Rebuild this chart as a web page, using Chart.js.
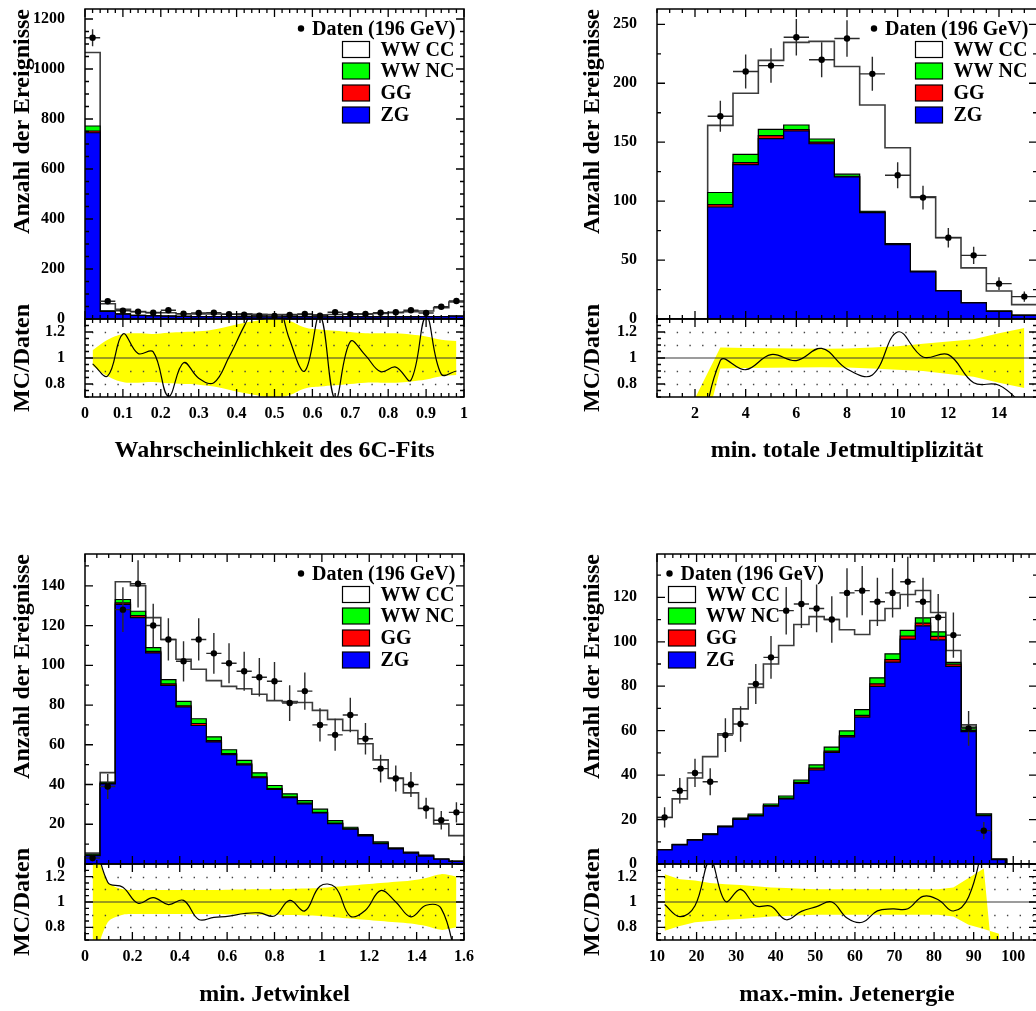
<!DOCTYPE html>
<html>
<head>
<meta charset="utf-8">
<title>Kontrollverteilungen 196 GeV</title>
<script src="https://cdn.jsdelivr.net/npm/chart.js@4.4.1/dist/chart.umd.min.js"></script>
<style>
  html, body { margin: 0; padding: 0; background: #fff; }
  #fig { position: relative; width: 1036px; height: 1011px; overflow: hidden; background: #fff; }
  #fig canvas { position: absolute; }
</style>
</head>
<body>
<div id="fig"></div>
<script>
// ---------------------------------------------------------------------------
// Wahrscheinlichkeit des 6C-Fits: 25 bins on [0, 1]
const fitZG    = [745, 30, 19, 14, 12, 11, 10, 9, 9, 8, 8, 8, 8, 8, 8, 8, 8, 8, 8, 8, 8, 8, 9, 9, 11];
const fitGG    = [7, 1, 1, 0.5, 0.5, 0.5, 0.5, 0.5, 0.5, 0.5, 0.5, 0.5, 0.5, 0.5, 0.5, 0.5, 0.5, 0.5, 0.5, 0.5, 0.5, 0.5, 0.5, 0.5, 0.5];
const fitNC    = [20, 2, 1, 0.5, 0.5, 0.5, 0.5, 0.5, 0.5, 0.5, 0.5, 0.5, 0.5, 0.5, 0.5, 0.5, 0.5, 0.5, 0.5, 0.5, 0.5, 0.5, 0.5, 0.5, 0.5];
const fitCC    = [294, 28, 18, 15, 13, 13, 10, 10, 10, 10, 12, 10, 9, 9, 9, 8, 9, 12, 11, 13, 16, 20, 22, 35, 56];
const fitData  = [1125, 71, 33, 29, 25, 35, 21, 24, 25, 19, 17, 13, 12, 16, 20, 13, 27, 19, 20, 25, 27, 35, 24, 49, 72];
const fitRatio = [0.955, 0.863, 1.184, 1.034, 1.047, 0.705, 0.963, 0.845, 0.81, 1.008, 1.245, 1.45, 1.5, 1.14, 0.9, 1.33, 0.68, 1.126, 1.02, 0.895, 0.93, 0.83, 1.32, 0.876, 0.9];
const fitBandHi = [1.06, 1.14, 1.185, 1.19, 1.185, 1.195, 1.2, 1.205, 1.22, 1.245, 1.27, 1.29, 1.305, 1.285, 1.235, 1.22, 1.21, 1.2, 1.19, 1.19, 1.19, 1.18, 1.165, 1.14, 1.13];
const fitBandLo = [0.94, 0.86, 0.815, 0.81, 0.815, 0.805, 0.8, 0.795, 0.78, 0.755, 0.73, 0.71, 0.695, 0.715, 0.765, 0.78, 0.79, 0.8, 0.81, 0.81, 0.81, 0.82, 0.835, 0.86, 0.87];
const fitXTicks = [0, 0.1, 0.2, 0.3, 0.4, 0.5, 0.6, 0.7, 0.8, 0.9, 1];
const fitYTicks = [0, 200, 400, 600, 800, 1000, 1200];

// min. totale Jetmultiplizitaet: 15 bins on [0.5, 15.5]
const jmZG    = [0, 0, 95, 131, 153, 159.5, 148.7, 120.6, 90.2, 63, 40, 23.8, 13.6, 6.5, 3.1];
const jmGG    = [0, 0, 2, 1.7, 2.5, 1.1, 1.4, 0.5, 0.4, 0.3, 0.2, 0.1, 0.1, 0.1, 0.05];
const jmNC    = [0, 0, 10.3, 6.9, 5.4, 4, 2.6, 1.8, 0.8, 0.7, 0.4, 0.1, 0.3, 0.2, 0.25];
const jmCC    = [0, 0, 57, 51.9, 58.5, 70.1, 82.8, 91.3, 90.2, 81.3, 63, 45, 29.4, 17, 8.8];
const jmData  = [null, null, 172, 210, 215, 239, 220, 238, 208, 122, 103, 69, 54, 30, 19];
const jmRatio = [null, 0, 0.98, 0.91, 1.026, 0.98, 1.074, 0.916, 0.87, 1.2, 1.008, 1.026, 0.81, 0.79, 0.63];
const jmBandHi = [null, 0.69, 1.08, 1.077, 1.075, 1.073, 1.072, 1.074, 1.08, 1.09, 1.11, 1.126, 1.145, 1.19, 1.23];
const jmBandLo = [null, 0.16, 0.92, 0.924, 0.925, 0.927, 0.928, 0.926, 0.92, 0.91, 0.9, 0.876, 0.855, 0.81, 0.77];
const jmXTicks = [2, 4, 6, 8, 10, 12, 14];
const jmYTicks = [0, 50, 100, 150, 200, 250];

// min. Jetwinkel: 25 bins on [0, 1.6]
const angZG    = [4.2, 40.3, 130.6, 124, 106.2, 89.9, 79, 69.7, 61.5, 55, 49.9, 43.4, 37.6, 33.4, 30.3, 25.7, 20.3, 17.5, 14.1, 10.3, 7.6, 5.5, 4, 2.4, 1.3];
const angGG    = [0.1, 0.3, 0.8, 1, 0.8, 0.7, 0.6, 1, 0.6, 0.5, 0.5, 0.5, 0.4, 0.4, 0.3, 0.3, 0.3, 0.2, 0.2, 0.2, 0.1, 0.1, 0.1, 0.05, 0.05];
const angNC    = [0.7, 0.6, 1.7, 2.2, 1.9, 2.2, 2.2, 2.4, 1.9, 2, 1.7, 2, 1.5, 1.5, 1.3, 1.6, 1.2, 0.8, 0.5, 0.6, 0.4, 0.4, 0.4, 0.05, 0.15];
const angCC    = [0.5, 4.8, 8.9, 12.8, 15.1, 20.2, 21.2, 24.9, 28.3, 31.9, 36.1, 39.5, 42.7, 46.4, 49.4, 49.7, 51, 48.7, 45.7, 41.3, 35.1, 29.8, 23.4, 17.7, 12.8];
const angData  = [3, 39, 128, 141, 120, 113, 102, 113, 106, 101, 97, 94, 92, 81, 87, 70, 65, 75, 63, 48, 43, 40, 28, 22, 26];
const angRatio = [1.6, 1.156, 1.117, 0.99, 1.034, 0.98, 1.013, 0.862, 0.878, 0.888, 0.909, 0.914, 0.89, 1.013, 0.93, 1.125, 1.117, 0.888, 0.935, 1.09, 1.0, 0.883, 0.974, 0.948, 0.55];
const angBandHi = [1.5, 1.16, 1.1, 1.095, 1.095, 1.095, 1.095, 1.095, 1.095, 1.097, 1.098, 1.1, 1.1, 1.103, 1.106, 1.11, 1.12, 1.13, 1.14, 1.15, 1.16, 1.17, 1.19, 1.22, 1.2];
const angBandLo = [0.5, 0.84, 0.9, 0.905, 0.905, 0.905, 0.905, 0.905, 0.905, 0.903, 0.902, 0.9, 0.9, 0.897, 0.894, 0.89, 0.88, 0.87, 0.86, 0.85, 0.84, 0.83, 0.81, 0.78, 0.8];
const angXTicks = [0, 0.2, 0.4, 0.6, 0.8, 1, 1.2, 1.4, 1.6];
const angYTicks = [0, 20, 40, 60, 80, 100, 120, 140];

// max.-min. Jetenergie: 25 bins on [10, 106]
const enZG    = [6.3, 8.6, 10.7, 13.2, 16.7, 20.1, 21.6, 26, 29.3, 36.3, 42.3, 50.2, 57.2, 66.1, 79.9, 90.8, 101.2, 107.2, 100.9, 88.9, 59.6, 21.8, 2, 0, 0];
const enGG    = [0.1, 0.1, 0.1, 0.2, 0.2, 0.2, 0.3, 0.3, 0.3, 0.4, 0.8, 0.6, 0.6, 0.8, 1.2, 1.2, 1.4, 1.2, 1.5, 1.0, 0.5, 0.2, 0, 0, 0];
const enNC    = [0.1, 0.1, 0.2, 0.2, 0.2, 0.4, 0.6, 0.7, 1.0, 1.1, 1.5, 1.8, 2.1, 2.6, 2.7, 2.6, 2.5, 2.4, 2.1, 0.8, 1.5, 0.5, 0.1, 0, 0];
const enCC    = [14.4, 20.5, 27.7, 34.7, 41.5, 49.1, 56.9, 63, 67.7, 70, 66.7, 57.4, 45.5, 33.8, 25.8, 20.4, 16.2, 12.3, 8.7, 5.4, 1.0, 0, 0.2, 0, 0];
const enData  = [21, 33, 41, 37, 58, 63, 81, 93, 114, 117, 115, 110, 122, 123, 118, 122, 127, 118, 111, 103, 61, 15, null, null, null];
const enRatio = [0.98, 0.884, 0.97, 1.33, 1.005, 1.1, 0.97, 0.966, 0.86, 0.926, 0.963, 1.0, 0.874, 0.84, 0.93, 0.945, 0.947, 1.045, 1.018, 0.929, 1.04, 1.47, null, null, null];
const enBandHi = [1.22, 1.18, 1.17, 1.15, 1.14, 1.134, 1.125, 1.115, 1.11, 1.105, 1.1, 1.1, 1.1, 1.1, 1.1, 1.1, 1.1, 1.1, 1.1, 1.115, 1.19, 1.265, 0, null, null];
const enBandLo = [0.774, 0.81, 0.84, 0.85, 0.86, 0.866, 0.875, 0.885, 0.89, 0.895, 0.9, 0.9, 0.9, 0.9, 0.9, 0.9, 0.9, 0.9, 0.9, 0.885, 0.82, 0.787, 0.75, null, null];
const enXTicks = [10, 20, 30, 40, 50, 60, 70, 80, 90, 100];
const enYTicks = [0, 20, 40, 60, 80, 100, 120];

// Ratio pads share one vertical axis
const ratioYTicks = [0.8, 1, 1.2];
const ratioGridRows = [0.8, 0.9, 1.1, 1.2];

const LABEL_DATA = 'Daten (196 GeV)';
// ---------------------------------------------------------------------------

const FONT = "'Liberation Serif', 'Times New Roman', Times, serif";
const COL = { zg: '#0000ff', gg: '#ff0000', nc: '#00ff00', cc: '#ffffff', band: '#ffff00' };
const tickFont = { family: FONT, size: 16, weight: 'bold' };
const titleFont = { family: FONT, size: 24, weight: 'bold' };
const fmt = v => String(Math.round(v * 1000) / 1000);

function edgesOf(min, width, n) { const e = []; for (let i = 0; i <= n; i++) e.push(+(min + width * i).toFixed(6)); return e; }
function centersOf(min, width, n) { const c = []; for (let i = 0; i < n; i++) c.push(+(min + width * (i + 0.5)).toFixed(6)); return c; }
// histogram outline: one point per left bin edge, closing point on the last edge
function stepPoints(edges, vals) { return edges.map((x, i) => ({ x, y: vals[Math.min(i, vals.length - 1)] })); }
function centerPoints(centers, vals) { return centers.map((x, i) => ({ x, y: vals[i] })); }

// Frame with inward major/minor ticks on all four sides
const rootFrame = {
  id: 'rootFrame',
  afterDatasetsDraw(chart, args, o) {
    const { ctx, chartArea: a, scales: { x, y } } = chart;
    ctx.save();
    ctx.strokeStyle = '#000';
    ctx.lineWidth = 1.3;
    const isMajor = (arr, v, step) => arr.some(m => Math.abs(m - v) < step * 1e-3);
    ctx.beginPath();
    const xs = Math.ceil(x.min / o.xMinor - 1e-6);
    for (let k = xs; ; k++) {
      const v = +(k * o.xMinor).toFixed(6);
      if (v > x.max + 1e-9) break;
      const px = x.getPixelForValue(v);
      const len = isMajor(o.xMajor, v, o.xMinor) ? 8 : 4;
      ctx.moveTo(px, a.bottom); ctx.lineTo(px, a.bottom - len);
      ctx.moveTo(px, a.top); ctx.lineTo(px, a.top + len);
    }
    const ys = Math.ceil(y.min / o.yMinor - 1e-6);
    for (let k = ys; ; k++) {
      const v = +(k * o.yMinor).toFixed(6);
      if (v > y.max + 1e-9) break;
      const py = y.getPixelForValue(v);
      const len = isMajor(o.yMajor, v, o.yMinor) ? 8 : 4;
      ctx.moveTo(a.left, py); ctx.lineTo(a.left + len, py);
      ctx.moveTo(a.right, py); ctx.lineTo(a.right - len, py);
    }
    ctx.stroke();
    ctx.lineWidth = 1.5;
    ctx.strokeRect(a.left, a.top, a.right - a.left, a.bottom - a.top);
    ctx.restore();
  }
};

// Poisson error bars on the data points, horizontal bar spans the bin
const errBars = {
  id: 'errBars',
  beforeDatasetDraw(chart, args, o) {
    if (args.index !== 0 || !o.centers) return;
    const { ctx, chartArea: a, scales: { x, y } } = chart;
    ctx.save();
    ctx.beginPath(); ctx.rect(a.left, a.top, a.right - a.left, a.bottom - a.top); ctx.clip();
    ctx.strokeStyle = '#2a2a2a';
    ctx.lineWidth = 1.4;
    ctx.beginPath();
    o.centers.forEach((c, i) => {
      const v = o.values[i];
      if (v == null) return;
      const e = Math.sqrt(v);
      const px = x.getPixelForValue(c), py = y.getPixelForValue(v);
      ctx.moveTo(px, y.getPixelForValue(v - e)); ctx.lineTo(px, y.getPixelForValue(v + e));
      ctx.moveTo(x.getPixelForValue(c - o.half), py); ctx.lineTo(x.getPixelForValue(c + o.half), py);
    });
    ctx.stroke();
    ctx.restore();
  }
};

// Legend box: data marker plus the four MC components
const histLegend = {
  id: 'histLegend',
  afterDatasetsDraw(chart, args, o) {
    if (!o.side) return;
    const { ctx, chartArea: a } = chart;
    const ds = chart.data.datasets;
    const rows = [19.5, 40.5, 62, 84, 106];
    let bulletX, textX, boxX, boxTextX;
    if (o.side === 'right') {
      bulletX = a.right - 163; textX = a.right - 152; boxX = a.right - 121.5; boxTextX = a.right - 83.5;
    } else {
      bulletX = a.left + 12.5; textX = a.left + 23.5; boxX = a.left + 11.5; boxTextX = a.left + 49;
    }
    ctx.save();
    ctx.font = `bold 20px ${FONT}`;
    ctx.textBaseline = 'middle';
    ctx.textAlign = 'left';
    ctx.fillStyle = '#000';
    ctx.beginPath(); ctx.arc(bulletX, a.top + rows[0], 3.2, 0, Math.PI * 2); ctx.fill();
    ctx.fillText(ds[0].label, textX, a.top + rows[0] + 1);
    [4, 3, 2, 1].forEach((di, k) => {
      const cy = a.top + rows[k + 1];
      ctx.fillStyle = ds[di].backgroundColor;
      ctx.fillRect(boxX, cy - 8, 27, 16);
      ctx.strokeStyle = '#000'; ctx.lineWidth = 1.2;
      ctx.strokeRect(boxX, cy - 8, 27, 16);
      ctx.fillStyle = '#000';
      ctx.fillText(ds[di].label, boxTextX, cy + 1);
    });
    ctx.restore();
  }
};

// Dotted guide rows and the unity line, drawn over the band and under the ratio curve
const ratioGuides = {
  id: 'ratioGuides',
  afterDatasetDraw(chart, args, o) {
    if (!o.rows || args.index !== 2) return;
    const { ctx, chartArea: a, scales: { y } } = chart;
    ctx.save();
    ctx.beginPath(); ctx.rect(a.left, a.top, a.right - a.left, a.bottom - a.top); ctx.clip();
    ctx.strokeStyle = '#444';
    ctx.lineWidth = 1.4;
    ctx.setLineDash([1.4, 11.3]);
    ctx.lineDashOffset = -7;
    o.rows.forEach(v => {
      const py = Math.round(y.getPixelForValue(v)) + 0.5;
      ctx.beginPath(); ctx.moveTo(a.left, py); ctx.lineTo(a.right, py); ctx.stroke();
    });
    ctx.setLineDash([]);
    ctx.strokeStyle = '#3a3a3a';
    ctx.lineWidth = 1.2;
    const pu = y.getPixelForValue(o.unity);
    ctx.beginPath(); ctx.moveTo(a.left, pu); ctx.lineTo(a.right, pu); ctx.stroke();
    ctx.restore();
  }
};

const fig = document.getElementById('fig');
function makeCanvas(left, top, w, h) {
  const c = document.createElement('canvas');
  c.width = w; c.height = h;
  c.style.left = left + 'px'; c.style.top = top + 'px';
  c.style.width = w + 'px'; c.style.height = h + 'px';
  fig.appendChild(c);
  return c.getContext('2d');
}

function mcSet(label, edges, vals, color, order) {
  const isCC = order === 4;
  return {
    label, data: stepPoints(edges, vals), stepped: true, fill: 'origin',
    backgroundColor: color, borderColor: isCC ? '#3c3c3c' : '#000', borderWidth: isCC ? 1.6 : 1.2,
    pointRadius: 0, stack: 'mc', order
  };
}

const RATIO_TOP_PAD = 24;

function drawPanel(g, p) {
  const n = p.zg.length;
  const edges = edgesOf(p.xMin, p.binWidth, n);
  const centers = centersOf(p.xMin, p.binWidth, n);
  const W = g.R - g.x0 + 12;

  // upper pad: stacked MC histograms and data
  const mainH = g.B1 - g.T + 19;
  new Chart(makeCanvas(g.x0, g.T - 9, W, mainH), {
    type: 'line',
    data: {
      datasets: [
        { label: LABEL_DATA, data: centerPoints(centers, p.data), showLine: false, pointRadius: 3.2,
          pointBackgroundColor: '#000', pointBorderWidth: 0, stack: 'data', order: 0 },
        mcSet('ZG', edges, p.zg, COL.zg, 1),
        mcSet('GG', edges, p.gg, COL.gg, 2),
        mcSet('WW NC', edges, p.nc, COL.nc, 3),
        mcSet('WW CC', edges, p.cc, COL.cc, 4)
      ]
    },
    options: {
      responsive: false, animation: false, events: [],
      layout: { padding: { left: 0, top: 9, right: 12, bottom: 10 } },
      plugins: {
        legend: { display: false }, tooltip: { enabled: false },
        rootFrame: { xMajor: p.xTicks, xMinor: p.xMinor, yMajor: p.yTicks, yMinor: p.yMinor },
        errBars: { centers, values: p.data, half: p.binWidth / 2 },
        histLegend: { side: p.legendSide }
      },
      scales: {
        x: { type: 'linear', display: false, min: p.xMin, max: p.xMax },
        y: {
          type: 'linear', stacked: true, min: 0, max: p.yMax,
          afterBuildTicks: s => { s.ticks = p.yTicks.map(v => ({ value: v })); },
          afterFit: s => { s.width = 85; s.paddingTop = 0; s.paddingBottom = 0; },
          grid: { display: false, drawTicks: false }, border: { display: false },
          ticks: { font: tickFont, color: '#000', padding: 20, callback: fmt },
          title: { display: true, text: 'Anzahl der Ereignisse', align: 'end', color: '#000',
                   font: titleFont, padding: { top: p.yTitlePad, bottom: 0 } }
        }
      }
    },
    plugins: [rootFrame, errBars, histLegend]
  });

  // lower pad: MC/Daten with uncertainty band
  const ratioH = RATIO_TOP_PAD + (g.B2 - g.B1) + 75;
  new Chart(makeCanvas(g.x0, g.B1 - RATIO_TOP_PAD, W, ratioH), {
    type: 'line',
    data: {
      datasets: [
        { label: 'MC/Daten', data: centerPoints(centers, p.ratio), borderColor: '#000', borderWidth: 1.2,
          pointRadius: 0, tension: 0.4, fill: false, order: 0 },
        { label: 'band low', data: centerPoints(centers, p.bandLo), borderWidth: 0, borderColor: 'rgba(0,0,0,0)',
          pointRadius: 0, tension: p.bandTension, fill: false, order: 2 },
        { label: 'band high', data: centerPoints(centers, p.bandHi), borderWidth: 0, borderColor: 'rgba(0,0,0,0)',
          pointRadius: 0, tension: p.bandTension, fill: 1, backgroundColor: COL.band, order: 1 }
      ]
    },
    options: {
      responsive: false, animation: false, events: [],
      elements: { line: { capBezierPoints: false } },
      layout: { padding: { left: 0, top: RATIO_TOP_PAD, right: 12, bottom: 0 } },
      plugins: {
        legend: { display: false }, tooltip: { enabled: false },
        rootFrame: { xMajor: p.xTicks, xMinor: p.xMinor, yMajor: ratioYTicks, yMinor: 0.05 },
        ratioGuides: { rows: ratioGridRows, unity: 1 }
      },
      scales: {
        x: {
          type: 'linear', min: p.xMin, max: p.xMax,
          afterBuildTicks: s => { s.ticks = p.xTicks.map(v => ({ value: v })); },
          afterFit: s => { s.height = 75; s.paddingLeft = 0; s.paddingRight = 0; },
          grid: { display: false, drawTicks: false }, border: { display: false },
          ticks: { font: tickFont, color: '#000', padding: 7, maxRotation: 0, autoSkip: false, callback: fmt },
          title: { display: true, text: p.xTitle, color: '#000', font: titleFont, padding: { top: 0, bottom: p.xTitlePad } }
        },
        y: {
          type: 'linear', min: 0.7, max: 1.3,
          afterBuildTicks: s => { s.ticks = ratioYTicks.map(v => ({ value: v })); },
          afterFit: s => { s.width = 85; s.paddingTop = 0; s.paddingBottom = 0; },
          grid: { display: false, drawTicks: false }, border: { display: false },
          ticks: { font: tickFont, color: '#000', padding: 20, callback: fmt },
          title: { display: true, text: 'MC/Daten', align: 'center', color: '#000',
                   font: titleFont, padding: { top: p.yTitlePad, bottom: 0 } }
        }
      }
    },
    plugins: [rootFrame, ratioGuides]
  });
}

// pad geometry (pixels): x0 = canvas left, L/R frame, T top, B1 pad split, B2 ratio bottom
const GEOM = [
  { x0: 0,   L: 85,  R: 464,  T: 9,   B1: 319, B2: 397 },
  { x0: 572, L: 657, R: 1037, T: 9,   B1: 319, B2: 397 },
  { x0: 0,   L: 85,  R: 464,  T: 554, B1: 864, B2: 940 },
  { x0: 572, L: 657, R: 1037, T: 554, B1: 864, B2: 940 }
];

drawPanel(GEOM[0], {
  xMin: 0, xMax: 1, binWidth: 0.04, yMax: 1240,
  zg: fitZG, gg: fitGG, nc: fitNC, cc: fitCC, data: fitData,
  ratio: fitRatio, bandHi: fitBandHi, bandLo: fitBandLo, bandTension: 0.4,
  xTicks: fitXTicks, xMinor: 0.02, yTicks: fitYTicks, yMinor: 50,
  xTitle: 'Wahrscheinlichkeit des 6C-Fits', legendSide: 'right', yTitlePad: 8, xTitlePad: 7
});
drawPanel(GEOM[1], {
  xMin: 0.5, xMax: 15.5, binWidth: 1, yMax: 263,
  zg: jmZG, gg: jmGG, nc: jmNC, cc: jmCC, data: jmData,
  ratio: jmRatio, bandHi: jmBandHi, bandLo: jmBandLo, bandTension: 0,
  xTicks: jmXTicks, xMinor: 0.5, yTicks: jmYTicks, yMinor: 25,
  xTitle: 'min. totale Jetmultiplizität', legendSide: 'right', yTitlePad: 6, xTitlePad: 7
});
drawPanel(GEOM[2], {
  xMin: 0, xMax: 1.6, binWidth: 0.064, yMax: 156,
  zg: angZG, gg: angGG, nc: angNC, cc: angCC, data: angData,
  ratio: angRatio, bandHi: angBandHi, bandLo: angBandLo, bandTension: 0.3,
  xTicks: angXTicks, xMinor: 0.05, yTicks: angYTicks, yMinor: 10,
  xTitle: 'min. Jetwinkel', legendSide: 'right', yTitlePad: 8, xTitlePad: 6
});
drawPanel(GEOM[3], {
  xMin: 10, xMax: 106, binWidth: 3.84, yMax: 139.5,
  zg: enZG, gg: enGG, nc: enNC, cc: enCC, data: enData,
  ratio: enRatio, bandHi: enBandHi, bandLo: enBandLo, bandTension: 0,
  xTicks: enXTicks, xMinor: 2, yTicks: enYTicks, yMinor: 10,
  xTitle: 'max.-min. Jetenergie', legendSide: 'left', yTitlePad: 6, xTitlePad: 6
});
</script>
</body>
</html>
